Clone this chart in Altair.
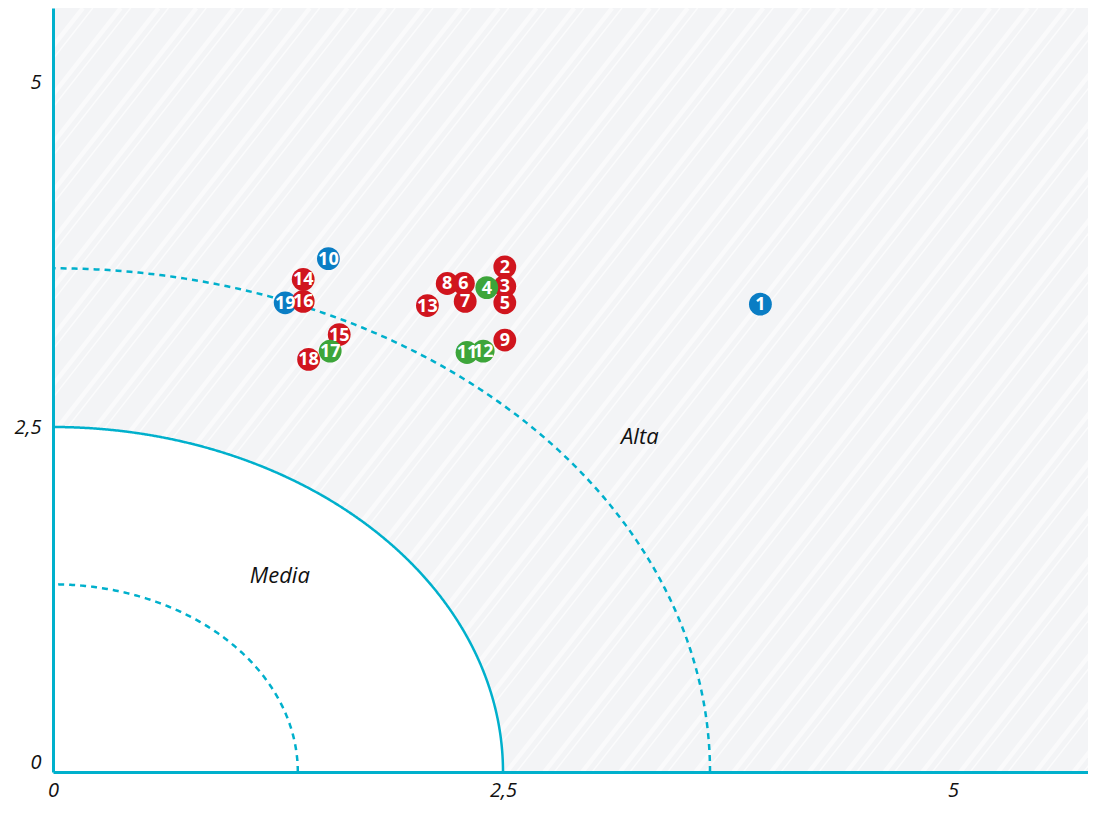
import altair as alt
import numpy as np
import pandas as pd

# ---- data ----
ids = [str(i) for i in range(1, 20)]
x_vals = [3.93, 2.51, 2.51, 2.41, 2.51, 2.28, 2.29, 2.19, 2.51, 1.53,
          2.30, 2.39, 2.08, 1.39, 1.59, 1.39, 1.54, 1.42, 1.29]
y_vals = [3.39, 3.66, 3.52, 3.51, 3.40, 3.54, 3.41, 3.54, 3.13, 3.72,
          3.04, 3.05, 3.38, 3.57, 3.17, 3.41, 3.05, 2.99, 3.40]
groups = ["A", "R", "R", "V", "R", "R", "R", "R", "R", "A",
          "V", "V", "R", "R", "R", "R", "V", "R", "A"]
group_order = ["A", "R", "V"]
group_colors = ["#0A7DC4", "#D0151E", "#3DA53A"]

tick_values = [0, 2.5, 5]
radii = [1.36, 2.5, 3.65]
radius_styles = ["dash", "solid", "dash"]
region_labels = ["Media", "Alta"]
region_x = [1.26, 3.26]
region_y = [1.42, 2.43]

W, H = 1035, 764
XMAX = W / 180.0
YMAX = H / 138.0
CYAN = "#00B0CC"

# ---- tables ----
pts = pd.DataFrame({"id": ids, "x": x_vals, "y": y_vals, "g": groups})
pts["rank"] = pts["g"].map({g: i for i, g in enumerate(group_order)})
pts = pts.sort_values(["rank"], kind="stable")

t = np.linspace(0, np.pi / 2, 241)
arc_rows = []
for r, s in zip(radii, radius_styles):
    for tt in t:
        arc_rows.append({"r": r, "style": s, "t": float(tt),
                         "x": float(r * np.cos(tt)), "y": float(r * np.sin(tt)), "y0": 0.0})
arcs = pd.DataFrame(arc_rows)
disk = arcs[arcs["style"] == "solid"].sort_values("x").reset_index(drop=True)

# decorative hatching (pixel angle ~52 deg)
shift = H / np.tan(np.radians(52)) / 180.0
base = np.arange(-4.2, XMAX + 0.2, 0.21)
thick = pd.DataFrame({"x": base, "x2": base + shift, "y": 0.0, "y2": YMAX})
thin = pd.DataFrame({"x": base + 0.055, "x2": base + 0.055 + shift, "y": 0.0, "y2": YMAX})

regions = pd.DataFrame({"label": region_labels, "x": region_x, "y": region_y})

xs = alt.Scale(domain=[0, XMAX], nice=False, zero=False)
ys = alt.Scale(domain=[0, YMAX], nice=False, zero=False)

label_expr = "replace(format(datum.value, '~g'), '.', ',')"
x_axis = alt.Axis(values=tick_values, labelExpr=label_expr, grid=False, ticks=False,
                  domainColor=CYAN, domainWidth=3, labelFont="Open Sans",
                  labelFontStyle="italic", labelFontSize=20, labelColor="#111111",
                  labelPadding=8, labelFlush=False, title=None, zindex=2)
y_axis = alt.Axis(values=tick_values, labelExpr=label_expr, grid=False, ticks=False,
                  domainColor=CYAN, domainWidth=3, labelFont="Open Sans",
                  labelFontStyle="italic", labelFontSize=20, labelColor="#111111",
                  labelPadding=12, labelFlush=True, title=None, zindex=2)


def X(field="x"):
    return alt.X(f"{field}:Q", scale=xs, axis=x_axis)


def Y(field="y"):
    return alt.Y(f"{field}:Q", scale=ys, axis=y_axis)


stripes_thick = alt.Chart(thick).mark_rule(clip=True, color="white", strokeWidth=4.5, opacity=0.55).encode(
    x=X(), x2="x2:Q", y=Y(), y2="y2:Q")
stripes_thin = alt.Chart(thin).mark_rule(clip=True, color="white", strokeWidth=1.5, opacity=0.65).encode(
    x=X(), x2="x2:Q", y=Y(), y2="y2:Q")

white_disk = alt.Chart(disk).mark_area(fill="white", fillOpacity=1, strokeWidth=0, clip=True).encode(
    x=X(), y=Y(), y2="y0:Q")

arc_lines = alt.Chart(arcs).mark_line(color=CYAN, strokeWidth=2.5, clip=True).encode(
    x=X(), y=Y(),
    detail="r:N",
    order="t:Q",
    strokeDash=alt.StrokeDash("style:N",
                              scale=alt.Scale(domain=["solid", "dash"], range=[[1, 0], [6, 5]]),
                              legend=None))

region_text = alt.Chart(regions).mark_text(font="Open Sans", fontStyle="italic",
                                           fontSize=22, color="#111111").encode(
    x=X(), y=Y(), text="label:N")

dots = alt.Chart(pts).mark_circle(size=520, opacity=1).encode(
    x=X(), y=Y(),
    color=alt.Color("g:N", scale=alt.Scale(domain=group_order, range=group_colors), legend=None),
    order="rank:Q")

dot_labels = alt.Chart(pts).mark_text(font="Open Sans", fontWeight="bold", fontSize=18,
                                      color="white", dy=1).encode(
    x=X(), y=Y(), text="id:N")

chart = alt.layer(stripes_thick, stripes_thin, white_disk, arc_lines, region_text,
                  dots, dot_labels).properties(
    width=W, height=H,
    autosize=alt.AutoSizeParams(type="none"),
    padding={"left": 45, "top": 0, "right": 0, "bottom": 30},
    background="white",
).configure_view(strokeWidth=0, fill="#F3F4F6")

chart.save("out.html", embed_options={"renderer": "svg", "actions": False})
